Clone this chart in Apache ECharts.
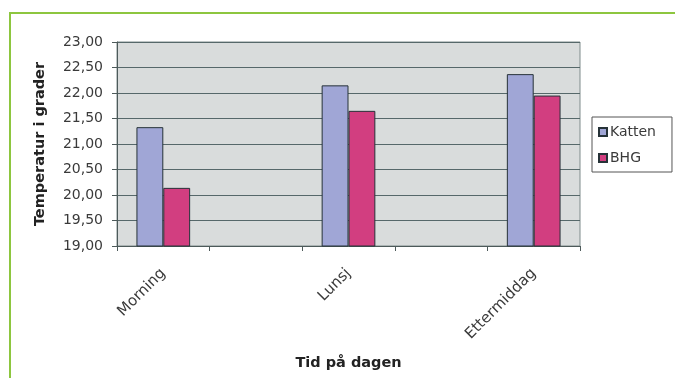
<!DOCTYPE html>
<html>
<head>
<meta charset="utf-8">
<script src="https://cdn.jsdelivr.net/npm/echarts@6/dist/echarts.min.js"></script>
<style>
  html, body { margin: 0; padding: 0; background: #ffffff; }
  #chart { width: 675px; height: 378px; }
</style>
</head>
<body>
<div id="chart"></div>
<script>
// Time of day (the blank slots keep the gaps between groups)
const categories = ['Morning', '', 'Lunsj', '', 'Ettermiddag'];
// Temperatures in degrees
const katten = [21.33, null, 22.15, null, 22.37];
const bhg = [20.14, null, 21.65, null, 21.95];
const yTicks = { min: 19, max: 23, step: 0.5 };

const chart = echarts.init(document.getElementById('chart'), null, { renderer: 'canvas' });
const font = 'DejaVu Sans, Verdana, sans-serif';
const fmt = v => v.toFixed(2).replace('.', ',');

chart.setOption({
  backgroundColor: '#ffffff',
  animation: false,
  textStyle: { fontFamily: font },
  graphic: [
    { type: 'rect', shape: { x: 9, y: 12, width: 666, height: 2 }, style: { fill: '#8dc63f' }, silent: true },
    { type: 'rect', shape: { x: 9, y: 12, width: 2, height: 366 }, style: { fill: '#8dc63f' }, silent: true }
  ],
  grid: {
    left: 117, right: 95, top: 42, bottom: 132,
    show: true, backgroundColor: '#d9dcdc', borderColor: '#7f8c8c', borderWidth: 1
  },
  legend: {
    orient: 'vertical',
    left: 592, top: 117,
    padding: [8, 16, 7, 6],
    itemGap: 12,
    itemWidth: 8, itemHeight: 8,
    borderColor: '#555', borderWidth: 1,
    textStyle: { fontFamily: font, fontSize: 14, color: '#3a3a3a', padding: [0, 0, 0, -2] },
    icon: 'rect',
    data: ['Katten', 'BHG']
  },
  xAxis: {
    type: 'category',
    data: categories,
    name: 'Tid på dagen',
    nameLocation: 'middle',
    nameGap: 110,
    nameTextStyle: { fontFamily: font, fontSize: 14.5, fontWeight: 'bold', color: '#222' },
    axisLine: { show: true, lineStyle: { color: '#4d5a5a', width: 1 } },
    axisTick: { show: true, length: 5, alignWithLabel: false, lineStyle: { color: '#4d5a5a' } },
    axisLabel: { interval: 0, rotate: 45, margin: 25, fontSize: 15, color: '#3a3a3a', fontFamily: font },
    splitLine: { show: false }
  },
  yAxis: {
    type: 'value',
    min: yTicks.min, max: yTicks.max, interval: yTicks.step,
    name: 'Temperatur i grader',
    nameLocation: 'middle',
    nameGap: 69,
    nameTextStyle: { fontFamily: font, fontSize: 14.5, fontWeight: 'bold', color: '#222' },
    axisLine: { show: true, lineStyle: { color: '#4d5a5a', width: 1 } },
    axisTick: { show: true, length: 5, inside: false, lineStyle: { color: '#4d5a5a' } },
    axisLabel: { formatter: fmt, fontSize: 14, color: '#3a3a3a', margin: 14, fontFamily: font },
    splitLine: { show: true, lineStyle: { color: '#56686a', width: 1 } }
  },
  series: [
    {
      name: 'Katten', type: 'bar', data: katten,
      barGap: '0%', barCategoryGap: '42%',
      itemStyle: { color: '#a0a6d6', borderColor: '#263238', borderWidth: 1 }
    },
    {
      name: 'BHG', type: 'bar', data: bhg,
      barGap: '0%', barCategoryGap: '42%',
      itemStyle: { color: '#d23e80', borderColor: '#263238', borderWidth: 1 }
    }
  ]
});
</script>
</body>
</html>
